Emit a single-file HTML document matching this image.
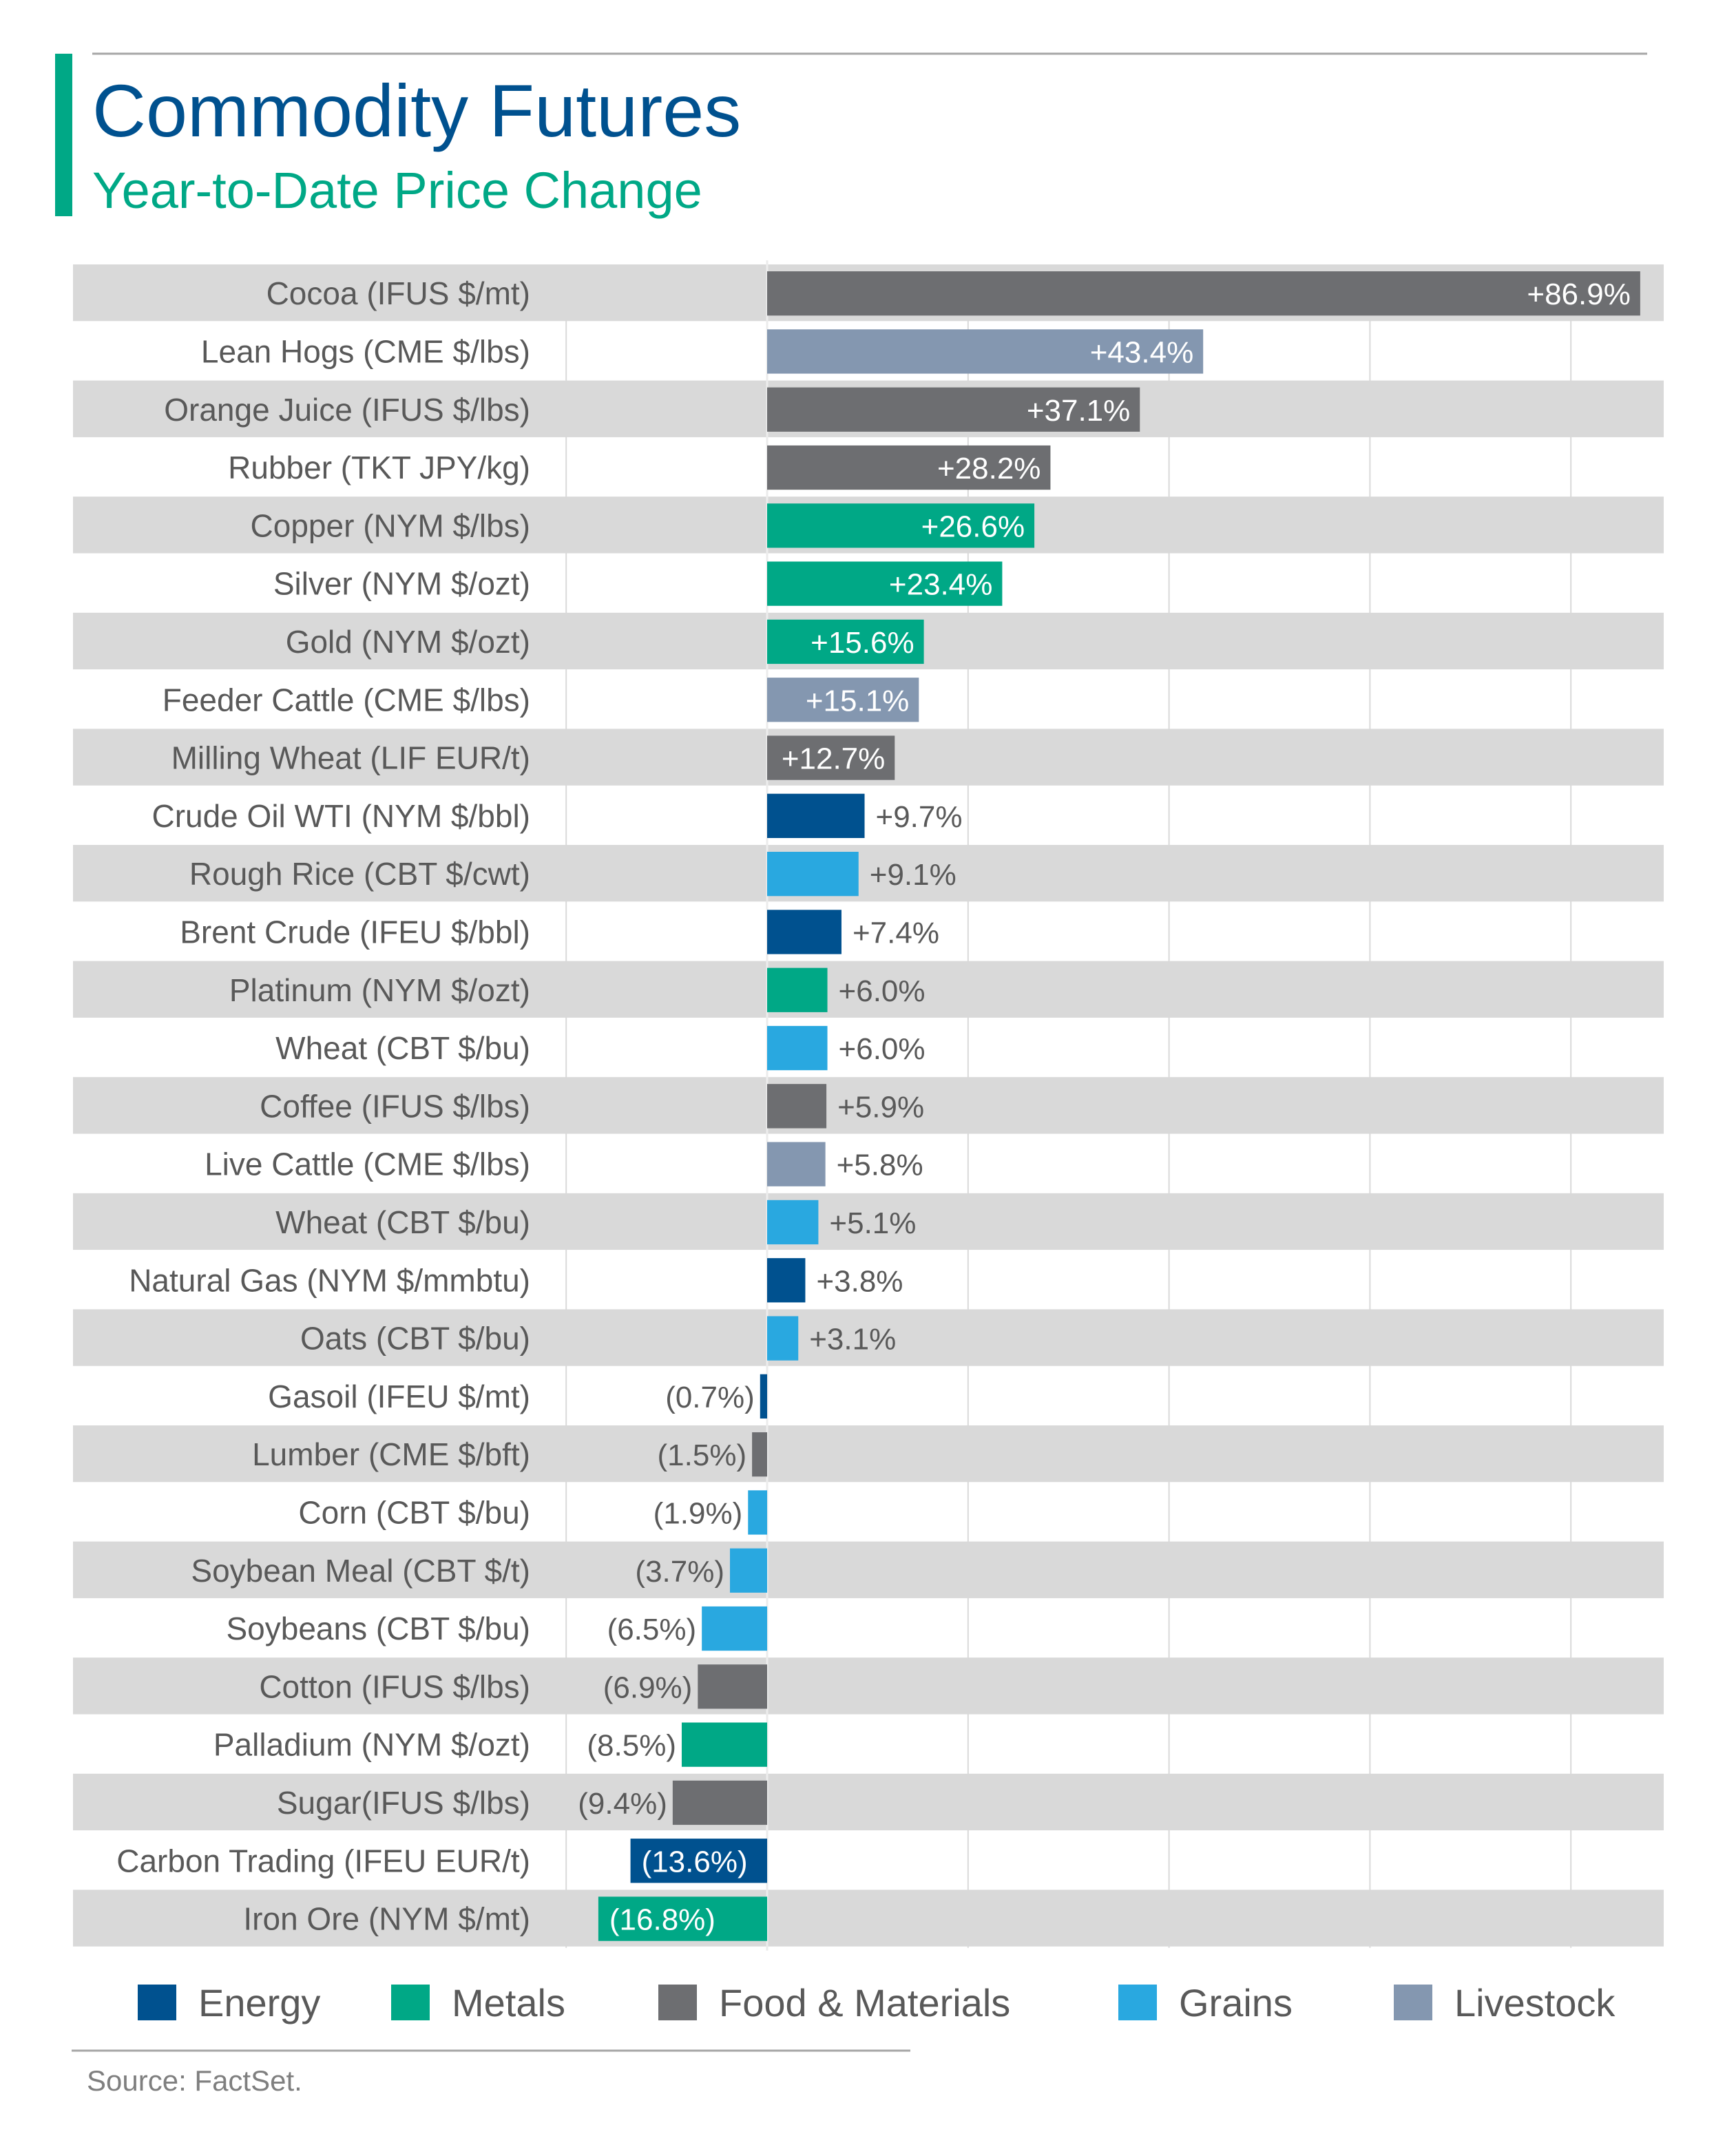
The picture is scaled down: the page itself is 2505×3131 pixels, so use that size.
<!DOCTYPE html>
<html><head><meta charset="utf-8"><style>
html,body{margin:0;padding:0;background:#fff;}
svg{display:block;font-family:"Liberation Sans",sans-serif;}
</style></head><body>
<svg id="chart" width="2505" height="3131" viewBox="0 0 2505 3131" xmlns="http://www.w3.org/2000/svg">
<line x1="134" y1="78" x2="2392" y2="78" stroke="#a6a6a6" stroke-width="3"/>
<rect x="80" y="78" width="25" height="236" fill="#00a886"/>
<text x="134" y="198" font-size="108" fill="#00518f">Commodity Futures</text>
<text x="134" y="302" font-size="74" fill="#00a886">Year-to-Date Price Change</text>
<g id="plot"></g>
<g font-size="56" fill="#595959">
<rect x="200" y="2882" width="56" height="52" fill="#00518f"/>
<text x="288" y="2928">Energy</text>
<rect x="568" y="2882" width="56" height="52" fill="#00a886"/>
<text x="656" y="2928">Metals</text>
<rect x="956" y="2882" width="56" height="52" fill="#6d6e71"/>
<text x="1044" y="2928">Food &amp; Materials</text>
<rect x="1624" y="2882" width="56" height="52" fill="#29a8e0"/>
<text x="1712" y="2928">Grains</text>
<rect x="2024" y="2882" width="56" height="52" fill="#8497b0"/>
<text x="2112" y="2928">Livestock</text>
</g>
<line x1="104" y1="2978" x2="1322" y2="2978" stroke="#a6a6a6" stroke-width="3"/>
<text x="126" y="3036" font-size="42" fill="#7f7f7f">Source: FactSet.</text>
</svg>
<script>
const categories = ["Cocoa (IFUS $/mt)","Lean Hogs (CME $/lbs)","Orange Juice (IFUS $/lbs)","Rubber (TKT JPY/kg)","Copper (NYM $/lbs)","Silver (NYM $/ozt)","Gold (NYM $/ozt)","Feeder Cattle (CME $/lbs)","Milling Wheat (LIF EUR/t)","Crude Oil WTI (NYM $/bbl)","Rough Rice (CBT $/cwt)","Brent Crude (IFEU $/bbl)","Platinum (NYM $/ozt)","Wheat (CBT $/bu)","Coffee (IFUS $/lbs)","Live Cattle (CME $/lbs)","Wheat (CBT $/bu)","Natural Gas (NYM $/mmbtu)","Oats (CBT $/bu)","Gasoil (IFEU $/mt)","Lumber (CME $/bft)","Corn (CBT $/bu)","Soybean Meal (CBT $/t)","Soybeans (CBT $/bu)","Cotton (IFUS $/lbs)","Palladium (NYM $/ozt)","Sugar(IFUS $/lbs)","Carbon Trading (IFEU EUR/t)","Iron Ore (NYM $/mt)"];
const values = [86.9,43.4,37.1,28.2,26.6,23.4,15.6,15.1,12.7,9.7,9.1,7.4,6.0,6.0,5.9,5.8,5.1,3.8,3.1,-0.7,-1.5,-1.9,-3.7,-6.5,-6.9,-8.5,-9.4,-13.6,-16.8];
const groups = ["F","L","F","F","M","M","M","L","F","E","G","E","M","G","F","L","G","E","G","E","F","G","G","G","F","M","F","E","M"];
const gridTicks = [-20,20,40,60,80];
const colors = {E:"#00518f",M:"#00a886",F:"#6d6e71",G:"#29a8e0",L:"#8497b0"};
const NS = "http://www.w3.org/2000/svg";
const plot = document.getElementById('plot');
const top0 = 384, rowH = 84.3, x0 = 1114, pxPer = 14.59;
const xs = v => x0 + v * pxPer;
const ys = i => top0 + i * rowH;
function mk(tag, attrs){const e=document.createElementNS(NS,tag);for(const k in attrs)e.setAttribute(k,attrs[k]);plot.appendChild(e);return e;}
const bottom = ys(categories.length);
gridTicks.forEach(t=>{
  const g = mk('line',{x1:xs(t),x2:xs(t),y1:top0,y2:bottom,stroke:'#d9d9d9','stroke-width':2});
  
  
});
categories.forEach((c,i)=>{
  if(i%2===0){
    const b = mk('rect',{x:106,y:ys(i),width:2310,height:rowH-2,fill:'#d9d9d9'});
    
    
  }
});
const zl = mk('line',{x1:x0,x2:x0,y1:top0-6,y2:bottom+4,stroke:'#ececec','stroke-width':3});


categories.forEach((c,i)=>{
  const v = values[i], y = ys(i), cy = y + rowH/2;
  const lab = mk('text',{x:770,y:cy+16,'font-size':46,fill:'#595959','text-anchor':'end'});
  lab.textContent = c;
  
  
  const xa = Math.min(xs(0),xs(v)), w = Math.abs(xs(v)-xs(0));
  const bar = mk('rect',{x:xa,y:y+10,width:Math.max(w,3),height:rowH-20,fill:colors[groups[i]]});
  
  
  const s = v>=0 ? '+'+v.toFixed(1)+'%' : '('+Math.abs(v).toFixed(1)+'%)';
  let attrs;
  if(Math.abs(v)>=10){
    attrs = v>=0 ? {x:xs(v)-14,'text-anchor':'end',fill:'#fff'} : {x:xs(v)+16,'text-anchor':'start',fill:'#fff'};
  } else {
    attrs = v>=0 ? {x:xs(v)+16,'text-anchor':'start',fill:'#595959'} : {x:xs(v)-8,'text-anchor':'end',fill:'#595959'};
  }
  attrs.y = cy+16; attrs['font-size']=44;
  const vl = mk('text',attrs);
  vl.textContent = s;
  
  
});
</script>
</body></html>
